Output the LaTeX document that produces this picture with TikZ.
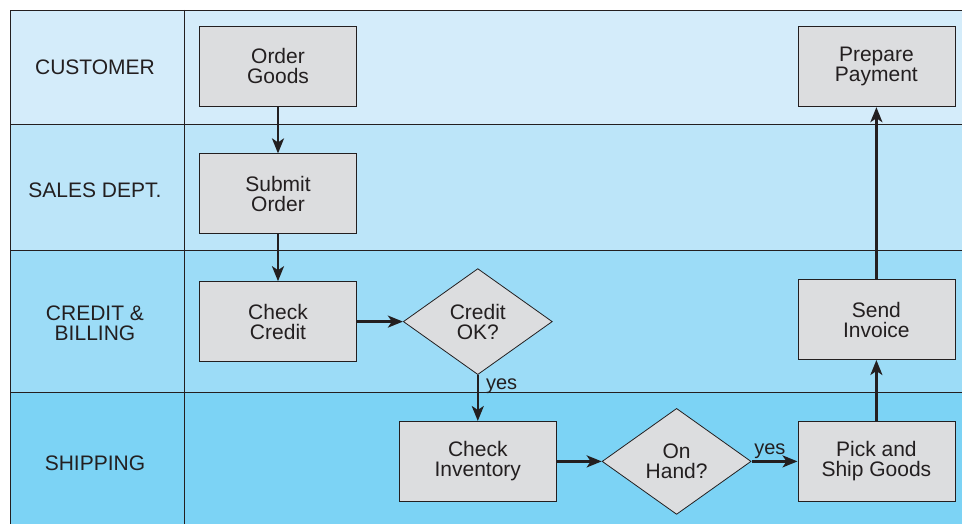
\documentclass[tikz,border=0pt]{standalone}
\usepackage{fontspec}
\setmainfont{Liberation Sans}
\usetikzlibrary{shapes.geometric,arrows.meta,positioning}

\definecolor{lanecust}{HTML}{D4ECFA}
\definecolor{lanesales}{HTML}{BCE5F9}
\definecolor{lanecredit}{HTML}{9CDCF7}
\definecolor{laneship}{HTML}{7CD3F5}
\definecolor{boxgray}{HTML}{DCDDDF}
\definecolor{inkgray}{HTML}{231F20}

\begin{document}
\begin{tikzpicture}[
  x=1pt,
  y=-1pt,
  node distance=46pt,
  box/.style={
    rectangle,
    draw=inkgray,
    fill=boxgray,
    text=inkgray,
    line width=0.8pt,
    minimum width=157pt,
    minimum height=80pt,
    font=\fontsize{21}{20}\selectfont,
    align=center
  },
  decision/.style={
    diamond,
    aspect=1.4,
    draw=inkgray,
    fill=boxgray,
    text=inkgray,
    line width=0.8pt,
    minimum width=149pt,
    minimum height=106pt,
    inner sep=0pt,
    font=\fontsize{21}{20}\selectfont,
    align=center
  },
  lanelabel/.style={
    text=inkgray,
    font=\fontsize{21}{20}\selectfont,
    align=center
  },
  laneline/.style={
    line width=0.8pt,
    draw=inkgray
  },
  line/.style={
    line width=2.4pt,
    draw=inkgray,
    -{Stealth[length=15pt,width=12pt,inset=4pt]}
  },
  yeslabel/.style={
    text=inkgray,
    font=\fontsize{20}{20}\selectfont,
    inner sep=2pt
  }
]

\useasboundingbox (0,0) rectangle (962,524);

% Swimlanes
\fill[lanecust] (10,10) rectangle (962,124);
\fill[lanesales] (10,124) rectangle (962,250);
\fill[lanecredit] (10,250) rectangle (962,392);
\fill[laneship] (10,392) rectangle (962,524);
\draw[laneline] (962,10) -- (10,10) -- (10,524);
\draw[laneline] (10,124) -- (962,124);
\draw[laneline] (10,250) -- (962,250);
\draw[laneline] (10,392) -- (962,392);
\draw[laneline] (184,10) -- (184,524);

% Lane labels
\node[lanelabel] (customer) at (95,67) {CUSTOMER};
\node[lanelabel] (sales) at (95,190) {SALES DEPT.};
\node[lanelabel] (credit) at (95,323) {CREDIT \&\\BILLING};
\node[lanelabel] (shipping) at (95,463) {SHIPPING};

% Left column
\node[box] (order) at (278,66) {Order\\Goods};
\node[box, below=47pt of order] (submit) {Submit\\Order};
\node[box, below=47pt of submit] (checkcredit) {Check\\Credit};
\draw[line] (order) -- (submit);
\draw[line] (submit) -- (checkcredit);

% Credit decision
\node[decision, right=46pt of checkcredit] (creditok) {Credit\\OK?};
\draw[line] (checkcredit) -- (creditok);

% Shipping lane
\node[box, below=46pt of creditok] (inventory) {Check\\Inventory};
\draw[line] (creditok) -- node[yeslabel, pos=0.25, right, xshift=5pt] {yes} (inventory);
\node[decision, right=45pt of inventory] (onhand) {On\\Hand?};
\draw[line] (inventory) -- (onhand);
\node[box, right=46pt of onhand] (pickship) {Pick and\\Ship Goods};
\draw[line] (onhand) -- node[yeslabel, pos=0.4, above] {yes} (pickship);

% Right column
\node[box, above=61pt of pickship] (invoice) {Send\\Invoice};
\node[box, above=172pt of invoice] (payment) {Prepare\\Payment};
\draw[line] (pickship) -- (invoice);
\draw[line] (invoice) -- (payment);

\end{tikzpicture}
\end{document}
